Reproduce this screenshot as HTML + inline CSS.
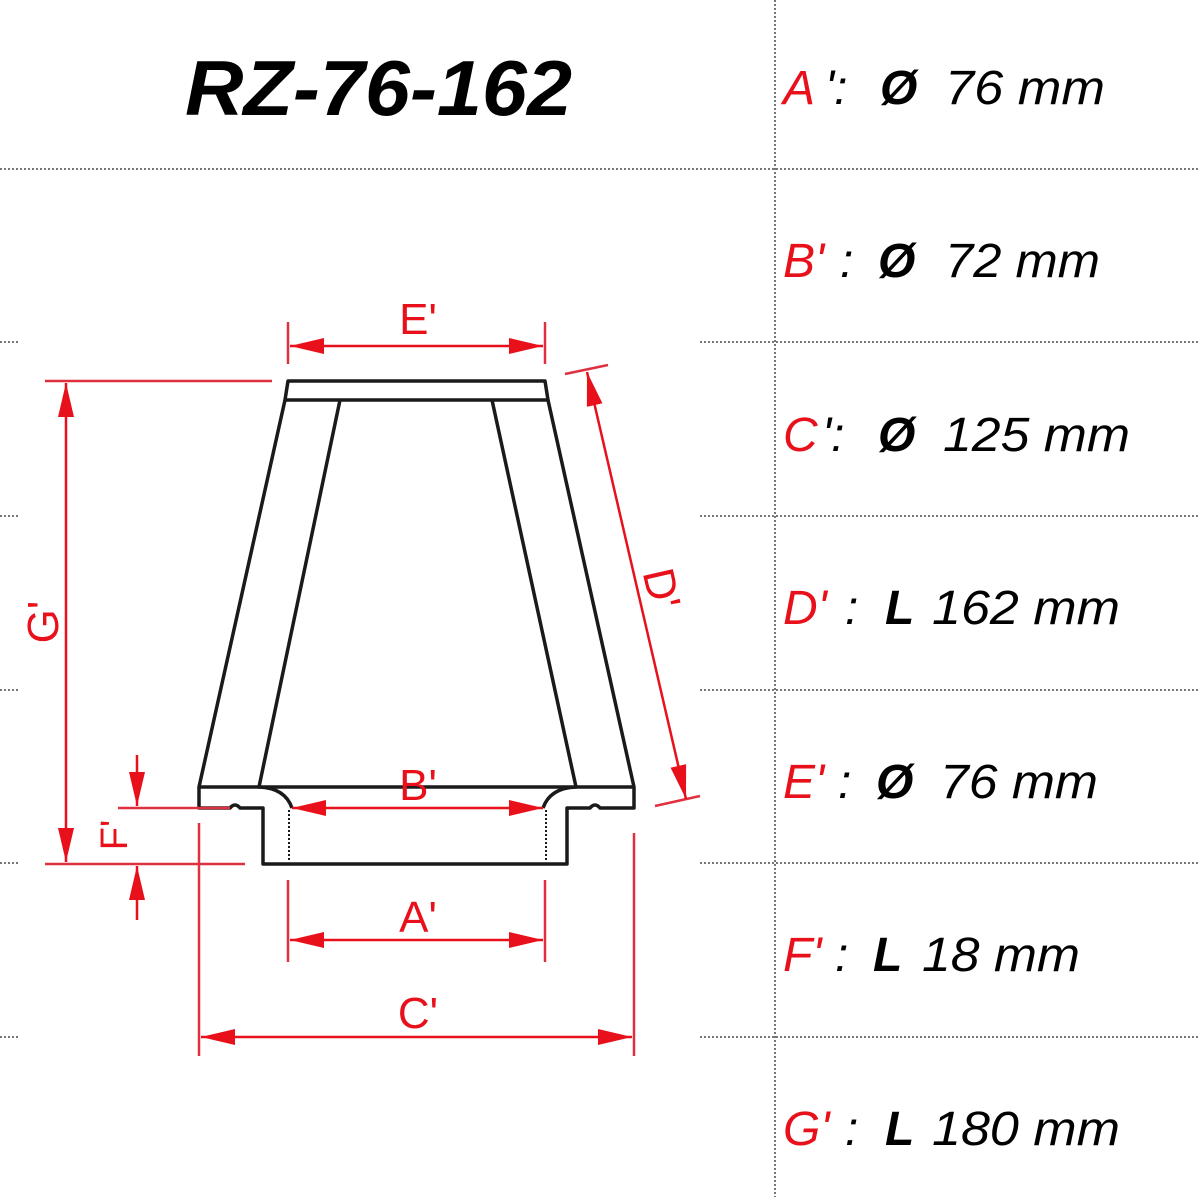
<!DOCTYPE html>
<html><head><style>
html,body{margin:0;padding:0;background:#fff;}
svg{display:block;}
</style></head><body>
<svg width="1200" height="1197" viewBox="0 0 1200 1197" xmlns="http://www.w3.org/2000/svg">
<defs>
<marker id="arb" markerWidth="34" markerHeight="16" refX="34" refY="8" orient="auto-start-reverse" markerUnits="userSpaceOnUse" viewBox="0 0 34 16">
<path d="M0,0 L34,8 L0,16 z" fill="#e8101a"/>
</marker>
</defs>
<g stroke="#777" stroke-width="2" stroke-dasharray="2,2">
<line x1="775" y1="0" x2="775" y2="1197"/>
<line x1="0" y1="169" x2="1200" y2="169"/>
<line x1="0" y1="342" x2="20" y2="342"/><line x1="700" y1="342" x2="1200" y2="342"/>
<line x1="0" y1="516" x2="20" y2="516"/><line x1="700" y1="516" x2="1200" y2="516"/>
<line x1="0" y1="690" x2="20" y2="690"/><line x1="700" y1="690" x2="1200" y2="690"/>
<line x1="0" y1="863" x2="20" y2="863"/><line x1="700" y1="863" x2="1200" y2="863"/>
<line x1="0" y1="1037" x2="20" y2="1037"/><line x1="700" y1="1037" x2="1200" y2="1037"/>
</g>
<text x="185" y="115" textLength="387" lengthAdjust="spacingAndGlyphs" font-family="Liberation Sans, sans-serif" font-weight="bold" font-style="italic" font-size="78" fill="#000">RZ-76-162</text>
<g font-family="Liberation Sans, sans-serif" font-style="italic" font-size="48" fill="#000">
<text x="783" y="104" fill="#e8101a">A</text><text x="825" y="104">':</text><text x="880" y="104" font-weight="bold">Ø</text><text x="945" y="104" textLength="160" lengthAdjust="spacingAndGlyphs">76 mm</text>
<text x="783" y="277" fill="#e8101a">B'</text><text x="840" y="277">:</text><text x="878" y="277" font-weight="bold">Ø</text><text x="945" y="277" textLength="155" lengthAdjust="spacingAndGlyphs">72 mm</text>
<text x="783" y="451" fill="#e8101a">C</text><text x="822" y="451">':</text><text x="878" y="451" font-weight="bold">Ø</text><text x="943" y="451" textLength="187" lengthAdjust="spacingAndGlyphs">125 mm</text>
<text x="783" y="624" fill="#e8101a">D'</text><text x="845" y="624">:</text><text x="885" y="624" font-weight="bold">L</text><text x="932" y="624" textLength="188" lengthAdjust="spacingAndGlyphs">162 mm</text>
<text x="783" y="798" fill="#e8101a">E'</text><text x="838" y="798">:</text><text x="876" y="798" font-weight="bold">Ø</text><text x="940" y="798" textLength="158" lengthAdjust="spacingAndGlyphs">76 mm</text>
<text x="783" y="971" fill="#e8101a">F'</text><text x="835" y="971">:</text><text x="873" y="971" font-weight="bold">L</text><text x="922" y="971" textLength="158" lengthAdjust="spacingAndGlyphs">18 mm</text>
<text x="783" y="1145" fill="#e8101a">G'</text><text x="845" y="1145">:</text><text x="885" y="1145" font-weight="bold">L</text><text x="932" y="1145" textLength="188" lengthAdjust="spacingAndGlyphs">180 mm</text>
</g>
<g stroke="#1a1a1a" stroke-width="3.5" fill="none" stroke-linejoin="round">
<path d="M288,381 L545,381 L548,400 L285,400 Z"/>
<path d="M285,400 L199,787 L199,808 L230,808 Q235,802 240,808 L263,808 L263,864 L567,864 L567,808 L590,808 Q595,802 600,808 L634,808 L634,787 L548,400"/>
<line x1="199" y1="787" x2="634" y2="787"/>
<path d="M340,400 L259,787 Q285,788 292,808"/>
<path d="M492,400 L576,787 Q550,788 543,808"/>
</g>
<g stroke="#1a1a1a" stroke-width="2" stroke-dasharray="2,2">
<line x1="289" y1="810" x2="289" y2="862"/><line x1="546" y1="810" x2="546" y2="862"/>
</g>
<g stroke="#e03040" stroke-width="2.5" fill="none">
<line x1="288" y1="322" x2="288" y2="364"/><line x1="545" y1="322" x2="545" y2="364"/>
<line x1="45" y1="381" x2="272" y2="381"/>
<line x1="45" y1="864" x2="245" y2="864"/>
<line x1="118" y1="808" x2="230" y2="808"/>
<line x1="199" y1="823" x2="199" y2="1056"/>
<line x1="634" y1="833" x2="634" y2="1056"/>
<line x1="288" y1="880" x2="288" y2="962"/><line x1="545" y1="880" x2="545" y2="962"/>
<line x1="565" y1="374" x2="608" y2="365"/>
<line x1="655" y1="806" x2="700" y2="796"/>
</g>
<g stroke="#e8101a" stroke-width="2.5" fill="none">
<line x1="290" y1="346" x2="543" y2="346" marker-start="url(#arb)" marker-end="url(#arb)"/>
<line x1="66" y1="383" x2="66" y2="862" marker-start="url(#arb)" marker-end="url(#arb)"/>
<line x1="137" y1="755" x2="137" y2="806" marker-end="url(#arb)"/>
<line x1="137" y1="920" x2="137" y2="866" marker-end="url(#arb)"/>
<line x1="292" y1="808" x2="543" y2="808" marker-start="url(#arb)" marker-end="url(#arb)"/>
<line x1="290" y1="940" x2="543" y2="940" marker-start="url(#arb)" marker-end="url(#arb)"/>
<line x1="201" y1="1037" x2="632" y2="1037" marker-start="url(#arb)" marker-end="url(#arb)"/>
<line x1="587" y1="372" x2="686" y2="799" marker-start="url(#arb)" marker-end="url(#arb)"/>
</g>
<g font-family="Liberation Sans, sans-serif" font-size="44" fill="#e8101a" text-anchor="middle">
<text x="418" y="334">E'</text>
<text x="418" y="800">B'</text>
<text x="418" y="932">A'</text>
<text x="418" y="1028">C'</text>
<text transform="translate(58,622) rotate(-90)">G'</text>
<text transform="translate(127,835) rotate(-90)" font-size="38">F'</text>
<text transform="translate(647,592) rotate(77)">D'</text>
</g>
</svg>
</body></html>
